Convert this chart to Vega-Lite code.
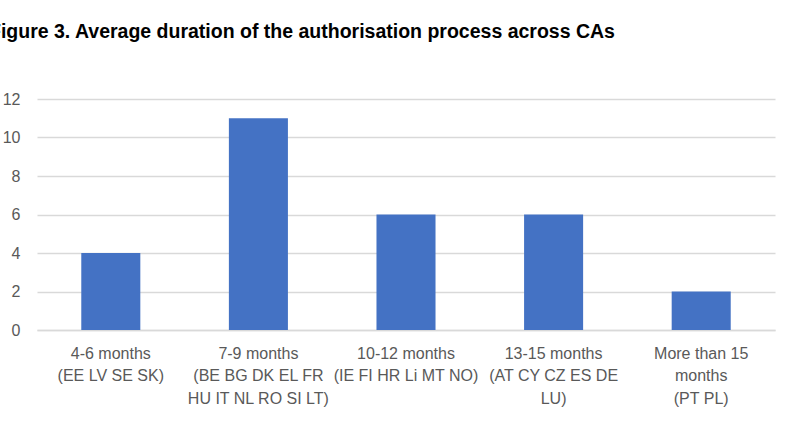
{
  "$schema": "https://vega.github.io/schema/vega-lite/v6.json",
  "autosize": "none",
  "width": 738,
  "height": 231,
  "padding": {"left": 37, "top": 99, "right": 25, "bottom": 115},
  "background": "white",
  "title": {
    "text": "Figure 3. Average duration of the authorisation process across CAs",
    "anchor": "start",
    "frame": "group",
    "dx": -48,
    "offset": 49,
    "font": "Liberation Sans",
    "fontSize": 19.5,
    "fontWeight": "bold",
    "color": "#000000"
  },
  "data": {
    "values": [
      {"category": "4-6 months\n(EE LV SE SK)", "count": 4},
      {"category": "7-9 months\n(BE BG DK EL FR\nHU IT NL RO SI LT)", "count": 11},
      {"category": "10-12 months\n(IE FI HR Li MT NO)", "count": 6},
      {"category": "13-15 months\n(AT CY CZ ES DE\nLU)", "count": 6},
      {"category": "More than 15\nmonths\n(PT PL)", "count": 2}
    ]
  },
  "mark": {"type": "bar", "color": "#4472C4"},
  "encoding": {
    "x": {
      "field": "category",
      "type": "nominal",
      "sort": null,
      "scale": {"paddingInner": 0.6, "paddingOuter": 0.3},
      "axis": {
        "title": null,
        "labelAngle": 0,
        "labelExpr": "split(datum.label, '\\n')",
        "labelFont": "Liberation Sans",
        "labelFontSize": 16,
        "labelColor": "#595959",
        "labelLineHeight": 22.5,
        "labelPadding": 15,
        "labelBaseline": "top",
        "ticks": false,
        "domainColor": "#d9d9d9",
        "domainWidth": 1.3
      }
    },
    "y": {
      "field": "count",
      "type": "quantitative",
      "scale": {"domain": [0, 12], "nice": false},
      "axis": {
        "title": null,
        "values": [0, 2, 4, 6, 8, 10, 12],
        "labelFont": "Liberation Sans",
        "labelFontSize": 16,
        "labelColor": "#595959",
        "labelPadding": 17,
        "ticks": false,
        "domain": false,
        "gridColor": "#d9d9d9",
        "gridWidth": 1.3
      }
    }
  },
  "config": {"view": {"stroke": null}}
}
